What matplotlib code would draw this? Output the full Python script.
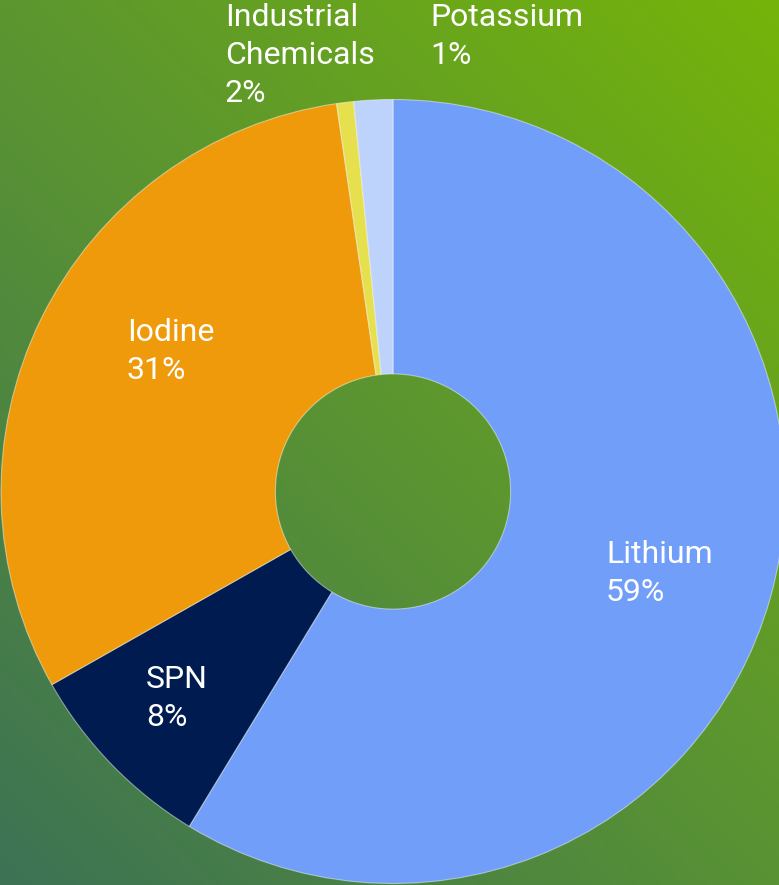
import matplotlib.pyplot as plt
import numpy as np
from matplotlib.colors import LinearSegmentedColormap

# slices, clockwise from 12 o'clock
names = ["Lithium", "SPN", "Iodine", "Potassium", "Industrial Chemicals"]
shares = [58.7, 8.1, 30.9, 0.7, 1.6]
pct_labels = ["59%", "8%", "31%", "1%", "2%"]
colors = ["#719ef9", "#001b4f", "#ef9a0a", "#e6df4e", "#bdd3fc"]

# label text lines and where the baseline of each line sits (pixels)
label_lines = {
    "Lithium": (["Lithium", "59%"], 606, 563),
    "SPN": (["SPN", "8%"], 146, 688),
    "Iodine": (["Iodine", "31%"], 127, 341),
    "Potassium": (["Potassium", "1%"], 430, 26),
    "Industrial Chemicals": (["Industrial", "Chemicals", "2%"], 225, 26),
}

W, H = 779, 885
plt.rcParams['font.family'] = ['Roboto', 'DejaVu Sans']

fig = plt.figure(figsize=(W / 100, H / 100), dpi=100)

# gradient background, bottom-left dark to top-right light
bg = fig.add_axes([0, 0, 1, 1])
gx, gy = np.meshgrid(np.linspace(0, 1, 300), np.linspace(0, 1, 300))
grad = (gx * W + gy * H) / (W + H)
cmap = LinearSegmentedColormap.from_list("bg", ["#3d7255", "#5a9432", "#75b40a"])
bg.imshow(grad, cmap=cmap, origin="lower", extent=[0, 1, 0, 1], aspect="auto")
bg.axis("off")

# donut, centre at (393, 491.5) px, radius 392 px
cx, cy, r = 393, 491.5, 392
ax = fig.add_axes([(cx - r) / W, (H - cy - r) / H, 2 * r / W, 2 * r / H])
ax.pie(shares, colors=colors, startangle=90, counterclock=False, radius=1,
       wedgeprops=dict(width=0.70, edgecolor=(1, 1, 1, 0.45), linewidth=0.8))
ax.set_xlim(-1, 1)
ax.set_ylim(-1, 1)
ax.set_aspect("equal")
ax.axis("off")

for name in names:
    lines, x, y0 = label_lines[name]
    for i, line in enumerate(lines):
        fig.text(x / W, 1 - (y0 + 38 * i) / H, line, color="white",
                 fontsize=23, va="baseline", ha="left")

fig.savefig("out.png", dpi=100)
